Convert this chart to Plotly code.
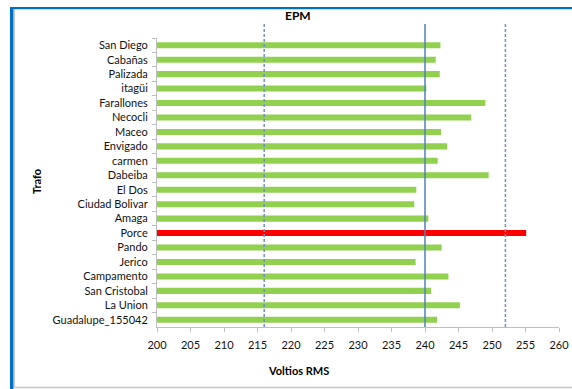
import plotly.graph_objects as go

# Transformer names, top to bottom
trafos = [
    "San Diego", "Cabañas", "Palizada", "itagüi", "Farallones", "Necocli",
    "Maceo", "Envigado", "carmen", "Dabeiba", "El Dos", "Ciudad Bolivar",
    "Amaga", "Porce", "Pando", "Jerico", "Campamento", "San Cristobal",
    "La Union", "Guadalupe_155042",
]
# Measured RMS voltage per transformer
voltios = [
    242.3, 241.6, 242.2, 240.2, 249.0, 246.9,
    242.4, 243.3, 241.9, 249.5, 238.7, 238.4,
    240.5, 255.1, 242.5, 238.6, 243.5, 240.9,
    245.2, 241.8,
]
# Highlighted transformer (out of limits)
destacado = "Porce"
# Lower limit, nominal and upper limit
limite_inf = 216
nominal = 240
limite_sup = 252
x_min, x_max = 200, 260
x_ticks = list(range(x_min, x_max + 1, 5))

W, H = 572, 389
L, R, T, B = 157, 13, 38, 62
PW, PH = W - L - R, H - T - B


def px_x(p):
    return (p - L) / PW


def px_y(p):
    return (H - B - p) / PH


colores = ["#ff0000" if t == destacado else "#92d050" for t in trafos]

fig = go.Figure()
# bars start at the axis minimum
fig.add_trace(go.Bar(
    x=[v - x_min for v in voltios], y=trafos, orientation="h",
    base=x_min, marker=dict(color=colores, line=dict(width=0)),
    customdata=voltios, hovertemplate="%{y}: %{customdata} V<extra></extra>",
))

shapes = []
# reference voltage lines
for val, dash, col in [(limite_inf, "3px,2px", "#7390c0"),
                       (nominal, "solid", "#4f81bd"),
                       (limite_sup, "3px,2px", "#7390c0")]:
    shapes.append(dict(type="line", xref="x", yref="paper",
                       x0=val, x1=val, y0=0, y1=px_y(24),
                       line=dict(color=col, width=1.5, dash=dash), layer="above"))

# frame around the chart
shapes.append(dict(type="rect", xref="paper", yref="paper",
                   x0=px_x(10), x1=px_x(13.5), y0=px_y(389), y1=px_y(7),
                   fillcolor="#0070c0", line=dict(width=0)))
shapes.append(dict(type="rect", xref="paper", yref="paper",
                   x0=px_x(10), x1=px_x(572), y0=px_y(9.3), y1=px_y(7),
                   fillcolor="#0070c0", line=dict(width=0)))
shapes.append(dict(type="line", xref="paper", yref="paper",
                   x0=px_x(14.5), x1=px_x(14.5), y0=px_y(387.5), y1=px_y(9.3),
                   line=dict(color="#c8c8c8", width=1.2)))
shapes.append(dict(type="line", xref="paper", yref="paper",
                   x0=px_x(14.5), x1=px_x(572), y0=px_y(387.5), y1=px_y(387.5),
                   line=dict(color="#c8c8c8", width=1.5)))

font = "Lato, 'Open Sans', sans-serif"
annotations = [
    dict(text="<b>EPM</b>", xref="paper", yref="paper", x=px_x(298), y=px_y(16),
         xanchor="center", yanchor="middle", showarrow=False,
         font=dict(family=font, size=12, color="#000")),
    dict(text="<b>Trafo</b>", xref="paper", yref="paper", x=px_x(36), y=px_y(182),
         xanchor="center", yanchor="middle", showarrow=False, textangle=-90,
         font=dict(family=font, size=11, color="#000")),
    dict(text="<b>Voltios RMS</b>", xref="paper", yref="paper", x=px_x(298), y=px_y(370),
         xanchor="center", yanchor="middle", showarrow=False,
         font=dict(family=font, size=11, color="#000")),
]

fig.update_layout(
    width=W, height=H,
    margin=dict(l=L, r=R, t=T, b=B, pad=0, autoexpand=False),
    paper_bgcolor="white", plot_bgcolor="white",
    showlegend=False, bargap=0.58,
    shapes=shapes, annotations=annotations,
    font=dict(family=font, size=11, color="#111"),
)
fig.update_xaxes(
    range=[x_min, x_max], tickvals=x_ticks, ticktext=[str(t) for t in x_ticks],
    automargin=False,
    showgrid=False, zeroline=False, showline=True, linecolor="#bfbfbf", linewidth=1,
    ticks="outside", ticklen=4, tickcolor="#bfbfbf", ticklabelstandoff=4,
    tickfont=dict(family=font, size=11, color="#111"),
)
fig.update_yaxes(
    categoryorder="array", categoryarray=trafos, autorange="reversed",
    automargin=False,
    showgrid=False, zeroline=False, showline=True, linecolor="#bfbfbf", linewidth=1,
    ticks="outside", ticklen=4, tickcolor="#bfbfbf", tickson="boundaries",
    ticklabelstandoff=6,
    tickfont=dict(family=font, size=11, color="#111"),
)

fig.write_html("out.html")
